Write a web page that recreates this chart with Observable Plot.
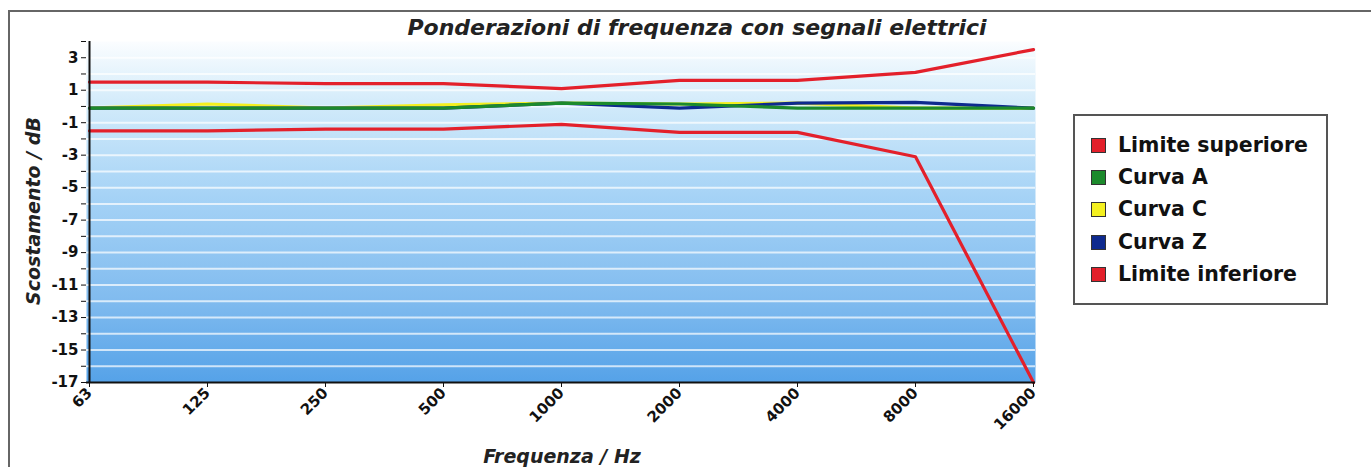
<!DOCTYPE html>
<html><head><meta charset="utf-8">
<script src="https://cdn.jsdelivr.net/npm/d3@7"></script>
<script src="https://cdn.jsdelivr.net/npm/@observablehq/plot@0.6"></script>
<style>
html,body{margin:0;padding:0;background:#fff;width:1371px;height:467px;overflow:hidden;font-family:"DejaVu Sans",sans-serif;}
#wrap{position:relative;width:1371px;height:467px;}
#frame{position:absolute;left:8px;top:10px;width:1380px;height:480px;border-left:2px solid #666;border-top:2px solid #666;box-sizing:border-box;}
#title{position:absolute;left:697px;top:15px;transform:translateX(-50%);font-weight:bold;font-style:italic;font-size:22px;color:#222;white-space:nowrap;}
#chart{position:absolute;left:0;top:0;}
#chart svg text{font-weight:bold;font-size:15px !important;}
#ylab{position:absolute;left:33px;top:211px;transform:translate(-50%,-50%) rotate(-90deg);font-weight:bold;font-style:italic;font-size:19px;white-space:nowrap;color:#222;}
#xlab{position:absolute;left:562px;top:445px;transform:translateX(-50%);font-weight:bold;font-style:italic;font-size:19px;white-space:nowrap;color:#222;}
#legend{position:absolute;left:1073px;top:114px;width:255px;height:191px;border:2px solid #555;box-sizing:border-box;background:#fff;}
.item{position:absolute;left:16px;font-weight:bold;font-size:20.5px;color:#111;height:24px;line-height:24px;white-space:nowrap;}
.sw{display:inline-block;width:15px;height:15px;border:1.5px solid #333;box-sizing:border-box;vertical-align:-1px;margin-right:12px;}
</style></head>
<body><div id="wrap"><div id="frame"></div><div id="chart"></div><div id="title">Ponderazioni di frequenza con segnali elettrici</div><div id="ylab">Scostamento / dB</div><div id="xlab">Frequenza / Hz</div><div id="legend"></div></div>
<script>
const freqs = ["63","125","250","500","1000","2000","4000","8000","16000"];
const limiteSuperiore = [1.5,1.5,1.4,1.4,1.1,1.6,1.6,2.1,3.5];
const curvaA = [-0.1,-0.1,-0.1,-0.1,0.2,0.15,-0.1,-0.1,-0.1];
const curvaC = [-0.1,0.15,-0.1,0.1,0.2,0.15,0.2,-0.1,-0.1];
const curvaZ = [-0.1,-0.1,-0.1,-0.1,0.2,-0.1,0.2,0.25,-0.1];
const limiteInferiore = [-1.5,-1.5,-1.4,-1.4,-1.1,-1.6,-1.6,-3.1,-17];
const yTicks = d3.range(-17, 5);

const series = [
  {name:"Limite superiore", values:limiteSuperiore, color:"#e3202b"},
  {name:"Curva A", values:curvaA, color:"#1c8a2c"},
  {name:"Curva C", values:curvaC, color:"#f4f020"},
  {name:"Curva Z", values:curvaZ, color:"#0e2a8e"},
  {name:"Limite inferiore", values:limiteInferiore, color:"#e3202b"}
];
const drawOrder = ["Limite superiore","Limite inferiore","Curva C","Curva Z","Curva A"];
const rows = s => freqs.map((f,i)=>({f, v:s.values[i]}));

const lineMarks = drawOrder.map(n => {
  const s = series.find(d=>d.name===n);
  return Plot.line(rows(s), {x:"f", y:"v", stroke:s.color, strokeWidth:3.2, strokeLinejoin:"round"});
});

const svg = Plot.plot({
  width:1371, height:467,
  marginLeft:86, marginRight:336, marginTop:41, marginBottom:85,
  style:{fontFamily:"'DejaVu Sans', sans-serif", fontSize:"15px", color:"#111", background:"transparent"},
  x:{type:"point", domain:freqs, padding:0},
  y:{domain:[-17,4]},
  marks:[
    Plot.frame({fill:"#cfe8f8", stroke:null}),
    Plot.ruleY(yTicks.filter(d=>d>-17 && d<4), {stroke:"#ffffff", strokeOpacity:0.7, strokeWidth:2}),
    ...lineMarks,
    Plot.axisY({ticks:yTicks, tickFormat:d => (Math.abs(d)%2===1 ? String(d) : ""), tickSize:5, tickPadding:3, label:null, fill:"#111"}),
    Plot.axisX({ticks:freqs, tickRotate:-45, tickSize:5, tickPadding:3, label:null, fill:"#111"}),
    Plot.ruleX([freqs[0]], {stroke:"#111", strokeWidth:2}),
    Plot.ruleY([-17], {stroke:"#111", strokeWidth:2})
  ]
});

const ns = "http://www.w3.org/2000/svg";
const defs = document.createElementNS(ns, "defs");
defs.innerHTML = `<linearGradient id="bg" x1="0" y1="0" x2="0" y2="1">
  <stop offset="0" stop-color="#fbfdff"/>
  <stop offset="0.1" stop-color="#e4f3fc"/>
  <stop offset="0.2" stop-color="#cfe9fa"/>
  <stop offset="0.45" stop-color="#a6d3f6"/>
  <stop offset="0.75" stop-color="#82bcef"/>
  <stop offset="1" stop-color="#55a2e8"/>
</linearGradient>`;
svg.insertBefore(defs, svg.firstChild);
const fr = svg.querySelector('[aria-label="frame"]');
if (fr) { (fr.tagName === "rect" ? fr : fr.querySelector("rect")).setAttribute("fill", "url(#bg)"); }
document.getElementById("chart").appendChild(svg);

const lg = document.getElementById("legend");
series.forEach((s,i) => {
  const d = document.createElement("div");
  d.className = "item";
  d.style.top = (17 + i*32.2) + "px";
  d.innerHTML = `<span class="sw" style="background:${s.color}"></span>${s.name}`;
  lg.appendChild(d);
});
</script></body></html>
